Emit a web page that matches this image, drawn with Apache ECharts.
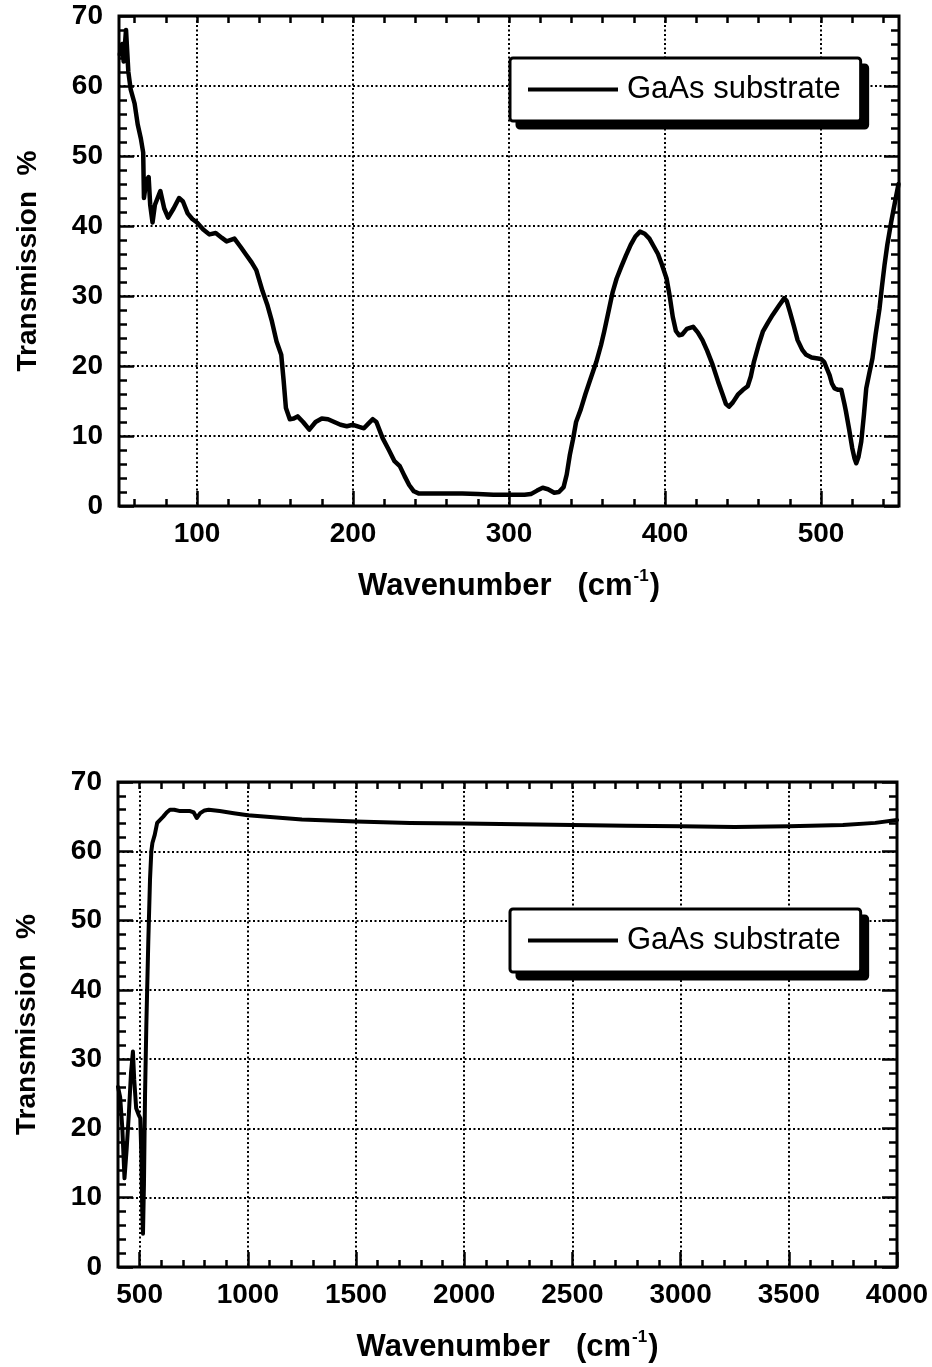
<!DOCTYPE html>
<html>
<head>
<meta charset="utf-8">
<script src="https://cdn.jsdelivr.net/npm/echarts@6/dist/echarts.min.js"></script>
<style>
html,body{margin:0;padding:0;background:#fff;}
#chart{width:932px;height:1367px;}
</style>
</head>
<body>
<div id="chart"></div>
<script>
// ---- Data: top panel (far IR) ----
const wn1 = [50.5,52,53,54.5,56,57.5,60,62,64,65.5,66,67.5,69,70,71.5,73,76.5,79,81.5,85,88.5,91,94,97,100,104,108,112,116,119,124,128,131.5,135,138,142,145,148,151,154,155.5,157,159.5,162,164.5,168,172,176,180,184,188,192,196,200,204,207,210,212.7,215,219,223,226.6,230,233,236,239,242,250,260,270,280,290,300,310,314,318,321.6,325,329,332,335,337,339,341,343,346,349,352,356,359,361,364,366.5,369,372,375,378,381,384,387,390,393,395.5,398,401,403,405,407,409,411,414,418,421,424,427,430.5,434,437,439,441,443.5,446.7,450,453,455,457,460,462.7,466,469,473,476.5,478,480,482.5,485,488,490.5,494,497,500,502,504,505.5,507,508.7,511,513,515,516,518,520,521.5,522.6,524,525.8,527.5,529,531,533,535,537.5,539,540.7,542.5,545,547.5,549.7];
const t1 = [64.5,66,63.5,68,62,59.5,57.5,54.5,52.5,50.5,44,46.5,47,43,40.5,43,45,42.5,41.2,42.5,44,43.5,41.8,41,40.5,39.5,38.8,39,38.3,37.8,38.2,37,35.9,34.8,33.7,30.7,28.8,26.4,23.5,21.6,18,14,12.4,12.5,12.8,12,10.9,12,12.5,12.4,12,11.6,11.4,11.6,11.3,11.1,11.8,12.4,12,9.7,8,6.4,5.7,4.3,3,2.1,1.8,1.8,1.8,1.8,1.7,1.6,1.6,1.6,1.7,2.2,2.6,2.4,1.9,2.0,2.7,4.5,7.3,9.5,12,13.8,16,18,20.6,23,24.9,28,30.6,32.5,34.2,35.8,37.3,38.5,39.2,38.9,38.2,37,36,34.5,32.5,30,27,25,24.4,24.5,25.3,25.6,24.8,23.7,22.2,20.2,17.8,15.9,14.6,14.2,14.8,15.9,16.6,17.1,18.5,20.6,23,24.9,26.2,27.3,28.6,29.7,29.3,27.8,25.8,23.7,22.3,21.6,21.2,21.1,21,20.6,19.5,18.7,17.5,16.8,16.6,16.6,14.6,13.5,11,8.3,6.8,6.1,7,9.2,13,16.8,19,21.1,24.5,28.2,31.2,34.4,37.3,40.6,43.5,46];

// ---- Data: bottom panel (mid IR) ----
const wn2 = [400,410,420,430,440,450,460,469,475,484,495,503,508,512,515.5,520,525,531,540,548,554,559,570,581,590,609,625,640,660,687,710,733,750,764,780,800,819,870,935,1000,1250,1500,1750,2000,2250,2500,2750,3000,3250,3500,3750,3900,4000];
const t2 = [26,24.5,20,12.8,17,22,28,31.1,27,22.9,22,21.5,16,8,4.8,12,25,35,47,56,60,61.2,62.4,64.1,64.4,65,65.6,66,66,65.8,65.8,65.8,65.6,64.8,65.5,65.9,66,65.8,65.5,65.2,64.6,64.3,64.1,64.0,63.9,63.8,63.7,63.6,63.5,63.6,63.8,64.1,64.5];

// ---- Tick labels / tick positions ----
const xLabels1 = [100,200,300,400,500];
const xMinor1 = [60,80,120,140,160,180,220,240,260,280,320,340,360,380,420,440,460,480,520,540];
const xTop1 = [60,80,100,120,140,160,180,200,220,240,260,280,300,320,340,360,380,400,420,440,460,480,500,520,540];
const xLabels2 = [500,1000,1500,2000,2500,3000,3500,4000];
const xMinor2 = [600,700,800,900,1100,1200,1300,1400,1600,1700,1800,1900,2100,2200,2300,2400,2600,2700,2800,2900,3100,3200,3300,3400,3600,3700,3800,3900];
const xTop2 = [500,600,700,800,900,1000,1100,1200,1300,1400,1500,1600,1700,1800,1900,2000,2100,2200,2300,2400,2500,2600,2700,2800,2900,3000,3100,3200,3300,3400,3500,3600,3700,3800,3900];
const seriesName = 'GaAs substrate';
const yName = 'Transmission  %';

const FONT = '"Liberation Sans", Arial, Helvetica, sans-serif';
const BLACK = '#000';

function zip(a, b){ return a.map((v,i)=>[v,b[i]]); }

const xName = '{b|Wavenumber   (cm}{s|-1}{b|)}';
const nameStyle = {
  fontFamily: FONT, fontSize: 31, fontWeight: 'bold', color: BLACK,
  rich: {
    b: {fontFamily: FONT, fontSize: 31, fontWeight: 'bold', color: BLACK, lineHeight: 36},
    s: {fontFamily: FONT, fontSize: 17, fontWeight: 'bold', color: BLACK, lineHeight: 36, verticalAlign: 'top', padding:[0,1,0,1]}
  }
};
const labelStyle = {fontFamily: FONT, fontSize: 28, fontWeight: 'bold', color: BLACK};
const dotted = {type: [2, 2.5], color: BLACK, width: 2};

function xAxes(g, min, max, labels, minor, top){
  return [
    {gridIndex: g, type: 'value', min: min, max: max, position: 'bottom',
     axisLine: {show: false},
     axisTick: {show: true, inside: true, length: 15, customValues: labels, lineStyle: {color: BLACK, width: 2.5}},
     axisLabel: Object.assign({customValues: labels, margin: 14, formatter: v => String(v)}, labelStyle),
     splitLine: {show: true, lineStyle: dotted},
     name: xName, nameLocation: 'middle', nameGap: 62, nameTextStyle: nameStyle},
    {gridIndex: g, type: 'value', min: min, max: max, position: 'bottom',
     axisLine: {show: false}, axisLabel: {show: false}, splitLine: {show: false},
     axisTick: {show: true, inside: true, length: 7, customValues: minor, lineStyle: {color: BLACK, width: 2.5}}},
    {gridIndex: g, type: 'value', min: min, max: max, position: 'top',
     axisLine: {show: false}, axisLabel: {show: false}, splitLine: {show: false},
     axisTick: {show: true, inside: true, length: 7, customValues: top, lineStyle: {color: BLACK, width: 2.5}}}
  ];
}
function yAxes(g){
  const common = {gridIndex: g, type: 'value', min: 0, max: 70, interval: 10,
    axisLine: {show: false},
    axisTick: {show: true, inside: true, length: 15, lineStyle: {color: BLACK, width: 2.5}},
    minorTick: {show: true, splitNumber: 5, length: 8, lineStyle: {color: BLACK, width: 2.5}}};
  return [
    Object.assign({}, common, {position: 'left',
      axisLabel: Object.assign({margin: 16}, labelStyle),
      splitLine: {show: true, lineStyle: dotted},
      name: yName, nameLocation: 'middle', nameGap: 77, nameRotate: 90,
      nameTextStyle: {fontFamily: FONT, fontSize: 28, fontWeight: 'bold', color: BLACK}}),
    Object.assign({}, common, {position: 'right', axisLabel: {show: false}, splitLine: {show: false}})
  ];
}
// legend box; a second, solid black copy offset behind it forms the drop shadow
function legendAt(top, shadow){
  const off = shadow ? 7 : 0;
  return {
    data: [seriesName], left: 510 + off, top: top + off, orient: 'horizontal',
    padding: [16, 20, 16, 18], itemWidth: 90, itemHeight: 4, icon: 'rect',
    itemStyle: {color: BLACK},
    textStyle: {fontFamily: FONT, fontSize: 31, color: BLACK, padding: [0, 0, 0, 4]},
    backgroundColor: shadow ? BLACK : '#fff', borderColor: BLACK, borderWidth: 3, borderRadius: 3,
    selectedMode: false, z: shadow ? 3 : 4
  };
}

const chart = echarts.init(document.getElementById('chart'), null, {renderer: 'canvas'});
chart.setOption({
  backgroundColor: '#fff',
  animation: false,
  grid: [
    {left: 119, top: 16, width: 780, height: 490, show: true, borderColor: BLACK, borderWidth: 3, backgroundColor: 'transparent'},
    {left: 118, top: 782, width: 779, height: 485, show: true, borderColor: BLACK, borderWidth: 3, backgroundColor: 'transparent'}
  ],
  legend: [legendAt(58, true), legendAt(58, false), legendAt(909, true), legendAt(909, false)],
  xAxis: xAxes(0, 50, 550, xLabels1, xMinor1, xTop1).concat(xAxes(1, 400, 4000, xLabels2, xMinor2, xTop2)),
  yAxis: yAxes(0).concat(yAxes(1)),
  series: [
    {name: seriesName, type: 'line', xAxisIndex: 0, yAxisIndex: 0, data: zip(wn1, t1),
     showSymbol: false, symbol: 'none', color: BLACK, lineStyle: {color: BLACK, width: 4.5, join: 'round', cap: 'round'}, z: 5},
    {name: seriesName, type: 'line', xAxisIndex: 3, yAxisIndex: 2, data: zip(wn2, t2),
     showSymbol: false, symbol: 'none', color: BLACK, lineStyle: {color: BLACK, width: 4, join: 'round', cap: 'round'}, z: 5}
  ]
});
</script>
</body>
</html>
